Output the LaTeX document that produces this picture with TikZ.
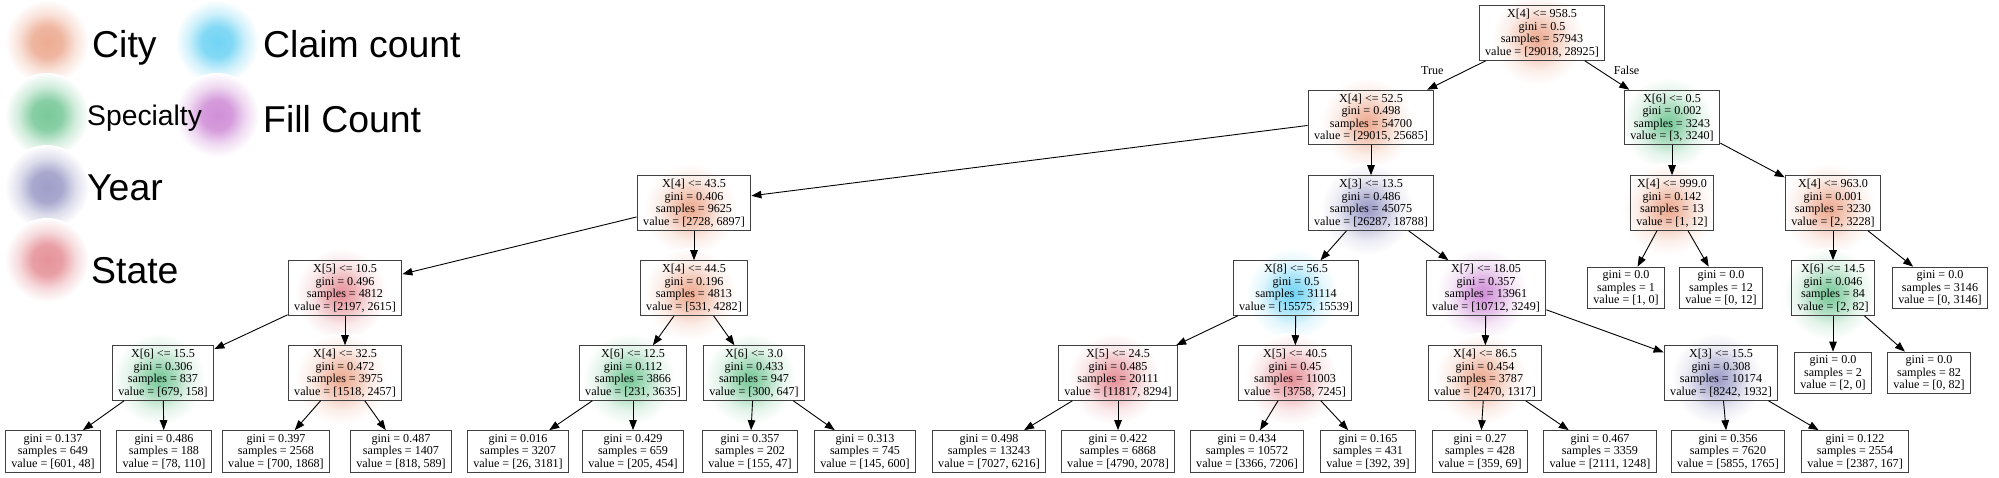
\documentclass[tikz,border=0pt]{standalone}
\usepackage{fontspec}
\setmainfont{Liberation Serif}
\newfontfamily\legendfont{Liberation Sans}
\usetikzlibrary{arrows.meta,backgrounds}

\definecolor{cityc}{RGB}{230,140,105}
\definecolor{specc}{RGB}{70,180,115}
\definecolor{yearc}{RGB}{120,120,180}
\definecolor{statec}{RGB}{220,105,115}
\definecolor{claimc}{RGB}{60,195,240}
\definecolor{fillc}{RGB}{190,100,200}

% soft spot for a split, and a flatter one for the legend
\newcommand\makeglow[2]{%
  \pgfdeclareradialshading{#1glow}{\pgfpointorigin}{color(0bp)=(#2!75!white); color(8bp)=(#2!50!white); color(17bp)=(#2!15!white); color(25bp)=(white); color(50bp)=(white)}%
  \pgfdeclareradialshading{#1blob}{\pgfpointorigin}{color(0bp)=(#2!72!white); color(9bp)=(#2!64!white); color(17bp)=(#2!25!white); color(25bp)=(white); color(50bp)=(white)}}
\makeglow{city}{cityc}
\makeglow{spec}{specc}
\makeglow{year}{yearc}
\makeglow{state}{statec}
\makeglow{claim}{claimc}
\makeglow{fill}{fillc}

\newcommand\glowat[2]{\shade[shading=#2glow] ([shift={(-4,6)}]#1.center) circle (46pt);}

\begin{document}
\begin{tikzpicture}[x=1pt,y=-1pt,
  split/.style={draw=black!75, line width=1.2pt, align=center, inner xsep=6pt, inner ysep=3.3pt, font=\fontsize{12.1}{12.5}\selectfont},
  link/.style={-{Triangle[length=10pt,width=7.5pt]}, line width=0.9pt},
  edgelbl/.style={inner sep=0pt, font=\fontsize{12.1}{12.5}\selectfont},
  legtxt/.style={anchor=base west, inner sep=0pt, font=\legendfont\fontsize{37.4}{40}\selectfont}]
\useasboundingbox (0,0) rectangle (1999,477);

% legend
\shade[shading=cityblob] (47,42) circle (42pt);
\shade[shading=claimblob] (217,42) circle (42pt);
\shade[shading=specblob] (47,115) circle (42pt);
\shade[shading=fillblob] (217,115) circle (42pt);
\shade[shading=yearblob] (47,187) circle (42pt);
\shade[shading=stateblob] (47,260) circle (42pt);
\node[legtxt] (city) at (92,57) {City};
\node[legtxt] (claim) at (263,57) {Claim count};
\node[legtxt, font=\legendfont\fontsize{28.3}{30}\selectfont] (spec) at (87,125) {Specialty};
\node[legtxt] (fillcount) at (263,132) {Fill Count};
\node[legtxt] (year) at (87,200) {Year};
\node[legtxt] (state) at (91,283) {State};

% tree
\node[split] (A) at (1542,33) {X[4] <= 958.5\\gini = 0.5\\samples = 57943\\value = [29018, 28925]};
\node[split] (B) at (1371,117.5) {X[4] <= 52.5\\gini = 0.498\\samples = 54700\\value = [29015, 25685]};
\node[split] (C) at (1672,117.5) {X[6] <= 0.5\\gini = 0.002\\samples = 3243\\value = [3, 3240]};
\node[split] (D) at (694,203) {X[4] <= 43.5\\gini = 0.406\\samples = 9625\\value = [2728, 6897]};
\node[split] (E) at (1371,203) {X[3] <= 13.5\\gini = 0.486\\samples = 45075\\value = [26287, 18788]};
\node[split] (F) at (1672,203) {X[4] <= 999.0\\gini = 0.142\\samples = 13\\value = [1, 12]};
\node[split] (G) at (1833,203) {X[4] <= 963.0\\gini = 0.001\\samples = 3230\\value = [2, 3228]};
\node[split] (H) at (345,288) {X[5] <= 10.5\\gini = 0.496\\samples = 4812\\value = [2197, 2615]};
\node[split] (I) at (694,288) {X[4] <= 44.5\\gini = 0.196\\samples = 4813\\value = [531, 4282]};
\node[split] (J) at (1296,288) {X[8] <= 56.5\\gini = 0.5\\samples = 31114\\value = [15575, 15539]};
\node[split] (K) at (1486,288) {X[7] <= 18.05\\gini = 0.357\\samples = 13961\\value = [10712, 3249]};
\node[split] (L) at (1626,288) {gini = 0.0\\samples = 1\\value = [1, 0]};
\node[split] (M) at (1721,288) {gini = 0.0\\samples = 12\\value = [0, 12]};
\node[split] (N) at (1833,288) {X[6] <= 14.5\\gini = 0.046\\samples = 84\\value = [2, 82]};
\node[split] (O) at (1940,288) {gini = 0.0\\samples = 3146\\value = [0, 3146]};
\node[split] (P) at (163,373) {X[6] <= 15.5\\gini = 0.306\\samples = 837\\value = [679, 158]};
\node[split] (Q) at (345,373) {X[4] <= 32.5\\gini = 0.472\\samples = 3975\\value = [1518, 2457]};
\node[split] (R) at (633,373) {X[6] <= 12.5\\gini = 0.112\\samples = 3866\\value = [231, 3635]};
\node[split] (S) at (754,373) {X[6] <= 3.0\\gini = 0.433\\samples = 947\\value = [300, 647]};
\node[split] (T) at (1118,373) {X[5] <= 24.5\\gini = 0.485\\samples = 20111\\value = [11817, 8294]};
\node[split] (U) at (1295,373) {X[5] <= 40.5\\gini = 0.45\\samples = 11003\\value = [3758, 7245]};
\node[split] (V) at (1485,373) {X[4] <= 86.5\\gini = 0.454\\samples = 3787\\value = [2470, 1317]};
\node[split] (W) at (1721,373) {X[3] <= 15.5\\gini = 0.308\\samples = 10174\\value = [8242, 1932]};
\node[split] (X) at (1833,373) {gini = 0.0\\samples = 2\\value = [2, 0]};
\node[split] (Y) at (1929,373) {gini = 0.0\\samples = 82\\value = [0, 82]};

\node[split] (P1) at (53,451.5) {gini = 0.137\\samples = 649\\value = [601, 48]};
\node[split] (P2) at (164,451.5) {gini = 0.486\\samples = 188\\value = [78, 110]};
\node[split] (Q1) at (276,451.5) {gini = 0.397\\samples = 2568\\value = [700, 1868]};
\node[split] (Q2) at (401,451.5) {gini = 0.487\\samples = 1407\\value = [818, 589]};
\node[split] (R1) at (518,451.5) {gini = 0.016\\samples = 3207\\value = [26, 3181]};
\node[split] (R2) at (633,451.5) {gini = 0.429\\samples = 659\\value = [205, 454]};
\node[split] (S1) at (750,451.5) {gini = 0.357\\samples = 202\\value = [155, 47]};
\node[split] (S2) at (865,451.5) {gini = 0.313\\samples = 745\\value = [145, 600]};
\node[split] (T1) at (989,451.5) {gini = 0.498\\samples = 13243\\value = [7027, 6216]};
\node[split] (T2) at (1118,451.5) {gini = 0.422\\samples = 6868\\value = [4790, 2078]};
\node[split] (U1) at (1247,451.5) {gini = 0.434\\samples = 10572\\value = [3366, 7206]};
\node[split] (U2) at (1368,451.5) {gini = 0.165\\samples = 431\\value = [392, 39]};
\node[split] (V1) at (1480,451.5) {gini = 0.27\\samples = 428\\value = [359, 69]};
\node[split] (V2) at (1600,451.5) {gini = 0.467\\samples = 3359\\value = [2111, 1248]};
\node[split] (W1) at (1728,451.5) {gini = 0.356\\samples = 7620\\value = [5855, 1765]};
\node[split] (W2) at (1855,451.5) {gini = 0.122\\samples = 2554\\value = [2387, 167]};

% feature colour behind each split
\begin{pgfonlayer}{background}
\glowat{A}{city} \glowat{B}{city} \glowat{C}{spec} \glowat{D}{city}
\glowat{E}{year} \glowat{F}{city} \glowat{G}{city} \glowat{H}{state}
\glowat{I}{city} \glowat{J}{claim} \glowat{K}{fill} \glowat{N}{spec}
\glowat{P}{spec} \glowat{Q}{city} \glowat{R}{spec} \glowat{S}{spec}
\glowat{T}{state} \glowat{U}{state} \glowat{V}{city} \glowat{W}{year}
\end{pgfonlayer}

\draw[link] (A) -- node[edgelbl, pos=0.333, xshift=-34pt] (true) {True} (B);
\draw[link] (A) -- node[edgelbl, pos=0.333, xshift=27pt] (false) {False} (C);
\draw[link] (B) -- (D);
\draw[link] (B) -- (E);
\draw[link] (C) -- (F);
\draw[link] (C) -- (G);
\draw[link] (D) -- (H);
\draw[link] (D) -- (I);
\draw[link] (E) -- (J);
\draw[link] (E) -- (K);
\draw[link] (F) -- (L);
\draw[link] (F) -- (M);
\draw[link] (G) -- (N);
\draw[link] (G) -- (O);
\draw[link] (H) -- (P);
\draw[link] (H) -- (Q);
\draw[link] (I) -- (R);
\draw[link] (I) -- (S);
\draw[link] (J) -- (T);
\draw[link] (J) -- (U);
\draw[link] (K) -- (V);
\draw[link] (K) -- (W);
\draw[link] (N) -- (X);
\draw[link] (N) -- (Y);
\draw[link] (P) -- (P1);
\draw[link] (P) -- (P2);
\draw[link] (Q) -- (Q1);
\draw[link] (Q) -- (Q2);
\draw[link] (R) -- (R1);
\draw[link] (R) -- (R2);
\draw[link] (S) -- (S1);
\draw[link] (S) -- (S2);
\draw[link] (T) -- (T1);
\draw[link] (T) -- (T2);
\draw[link] (U) -- (U1);
\draw[link] (U) -- (U2);
\draw[link] (V) -- (V1);
\draw[link] (V) -- (V2);
\draw[link] (W) -- (W1);
\draw[link] (W) -- (W2);
\end{tikzpicture}
\end{document}
